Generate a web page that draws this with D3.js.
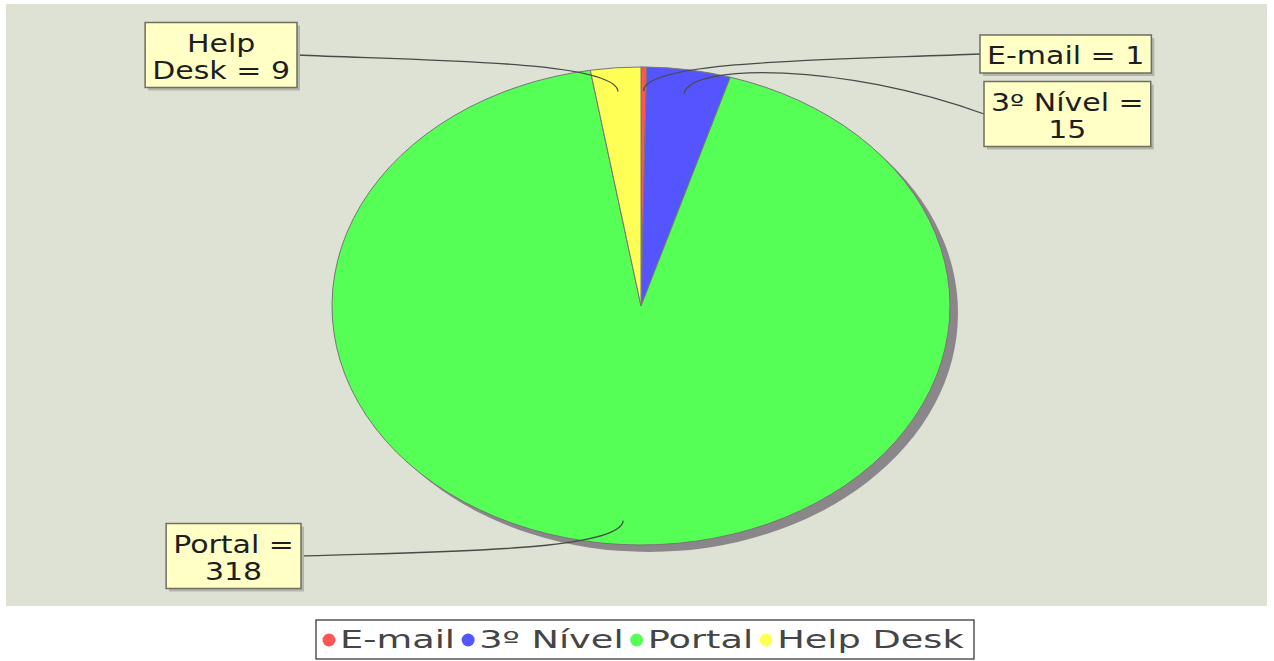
<!DOCTYPE html>
<html>
<head>
<meta charset="utf-8">
<script src="https://cdn.jsdelivr.net/npm/d3@7"></script>
<style>
  html, body { margin: 0; padding: 0; background: #ffffff; }
  svg { display: block; }
</style>
</head>
<body>
<svg id="chart" width="1274" height="661"></svg>
<script>
// Chamados por origem
const categories = ["E-mail", "3º Nível", "Portal", "Help Desk"];
const values = [1, 15, 318, 9];
const colors = ["#ff5555", "#5555ff", "#55ff55", "#ffff55"];

const W = 1274, H = 661;
const svg = d3.select("#chart");
const FONT = "DejaVu Sans, Verdana, sans-serif";

// plot area
const plot = { x: 6, y: 4, w: 1261, h: 602 };
svg.append("rect")
  .attr("x", plot.x).attr("y", plot.y)
  .attr("width", plot.w).attr("height", plot.h)
  .attr("fill", "#dee2d5");

// elliptical pie geometry
const cx = 641, cy = 306, rx = 309, ry = 239;
const sy = ry / rx;

const pie = d3.pie().sort(null).value(d => d.value);
const arcs = pie(categories.map((c, i) => ({ name: c, value: values[i], color: colors[i] })));
const arc = d3.arc().innerRadius(0).outerRadius(rx);

// shadow
svg.append("ellipse")
  .attr("cx", cx + 8).attr("cy", cy + 7)
  .attr("rx", rx).attr("ry", ry)
  .attr("fill", "#8a868a");

const pieG = svg.append("g")
  .attr("transform", `translate(${cx},${cy}) scale(1,${sy})`);

pieG.selectAll("path")
  .data(arcs)
  .join("path")
  .attr("d", arc)
  .attr("fill", d => d.data.color)
  .attr("stroke", "#767676")
  .attr("stroke-width", 1)
  .attr("vector-effect", "non-scaling-stroke");

// point on the ellipse at a given angle (clockwise from 12 o'clock) and radius fraction
function ellPoint(angle, f) {
  return [cx + Math.sin(angle) * rx * f, cy - Math.cos(angle) * ry * f];
}

// label placement: side of the pie, edge x of the box and vertical centre
const labelLayout = {
  "E-mail":    { side: "right", x: 980, y: 54 },
  "3º Nível":  { side: "right", x: 984, y: 114 },
  "Portal":    { side: "left",  x: 301, y: 556 },
  "Help Desk": { side: "left",  x: 297, y: 55 }
};
const wrapWidth = { left: 145, right: 185 };
const labelFont = 24, labelSx = 1.25, lineH = 27;

// measure a string at a given font size (unstretched)
const meas = svg.append("text").attr("font-family", FONT).attr("font-size", labelFont)
  .attr("visibility", "hidden");
function textW(s, size) {
  meas.attr("font-size", size).text(s);
  return meas.node().getComputedTextLength();
}
function wrap(str, maxW) {
  const words = str.split(" ");
  const lines = [];
  let cur = "";
  words.forEach(w => {
    const t = cur ? cur + " " + w : w;
    if (cur && textW(t, labelFont) * labelSx > maxW) { lines.push(cur); cur = w; }
    else cur = t;
  });
  if (cur) lines.push(cur);
  return lines;
}

const linkG = svg.append("g");
const labelG = svg.append("g");

arcs.forEach(d => {
  const lay = labelLayout[d.data.name];
  const text = `${d.data.name} = ${d.data.value}`;
  const lines = wrap(text, wrapWidth[lay.side]);
  const tw = d3.max(lines, l => textW(l, labelFont)) * labelSx;
  const bw = tw + 14, bh = lines.length * lineH + 11;
  const bx = lay.side === "left" ? lay.x - bw : lay.x;
  const by = lay.y - bh / 2;

  // curved link from inside the slice to the label box
  const mid = (d.startAngle + d.endAngle) / 2;
  const p0 = ellPoint(mid, 0.9);
  const p1 = ellPoint(mid, 1.03);
  const p3 = [lay.x, lay.y];
  const p2 = [lay.side === "left" ? p3[0] + 130 : p3[0] - 140, p1[1]];
  const path = d3.path();
  path.moveTo(p0[0], p0[1]);
  path.bezierCurveTo(p1[0], p1[1], p2[0], p2[1], p3[0], p3[1]);
  linkG.append("path")
    .attr("d", path.toString())
    .attr("fill", "none")
    .attr("stroke", "#4a4a4a")
    .attr("stroke-width", 1.3);

  // label box with shadow
  labelG.append("rect")
    .attr("x", bx + 3).attr("y", by + 3).attr("width", bw).attr("height", bh)
    .attr("fill", "#b4b5ad");
  labelG.append("rect")
    .attr("x", bx).attr("y", by).attr("width", bw).attr("height", bh)
    .attr("fill", "#ffffc6").attr("stroke", "#6f6f60").attr("stroke-width", 1.5);
  lines.forEach((l, i) => {
    labelG.append("g")
      .attr("transform", `translate(${bx + bw / 2},${by + 29 + i * lineH}) scale(${labelSx},1)`)
      .append("text")
      .attr("text-anchor", "middle")
      .attr("font-family", FONT)
      .attr("font-size", labelFont)
      .attr("fill", "#1e1e1e")
      .text(l);
  });
});

// legend
const leg = { x: 316, y: 620, w: 658, h: 39 };
const legFont = 24, legSx = 1.53;
const legG = svg.append("g");
legG.append("rect")
  .attr("x", leg.x).attr("y", leg.y).attr("width", leg.w).attr("height", leg.h)
  .attr("fill", "#ffffff").attr("stroke", "#2a2a2a").attr("stroke-width", 1.2);
svg.append("clipPath").attr("id", "legClip")
  .append("rect").attr("x", leg.x).attr("y", leg.y).attr("width", leg.w - 1).attr("height", leg.h);
const legItems = legG.append("g").attr("clip-path", "url(#legClip)");
let lx = leg.x + 6;
categories.forEach((c, i) => {
  legItems.append("circle")
    .attr("cx", lx + 7).attr("cy", leg.y + 20).attr("r", 6.5)
    .attr("fill", colors[i]);
  const tx = lx + 18;
  legItems.append("g")
    .attr("transform", `translate(${tx},${leg.y + 28}) scale(${legSx},1)`)
    .append("text")
    .attr("font-family", FONT)
    .attr("font-size", legFont)
    .attr("fill", "#454545")
    .text(c);
  lx = tx + textW(c, legFont) * legSx + 6;
});
meas.remove();
</script>
</body>
</html>
